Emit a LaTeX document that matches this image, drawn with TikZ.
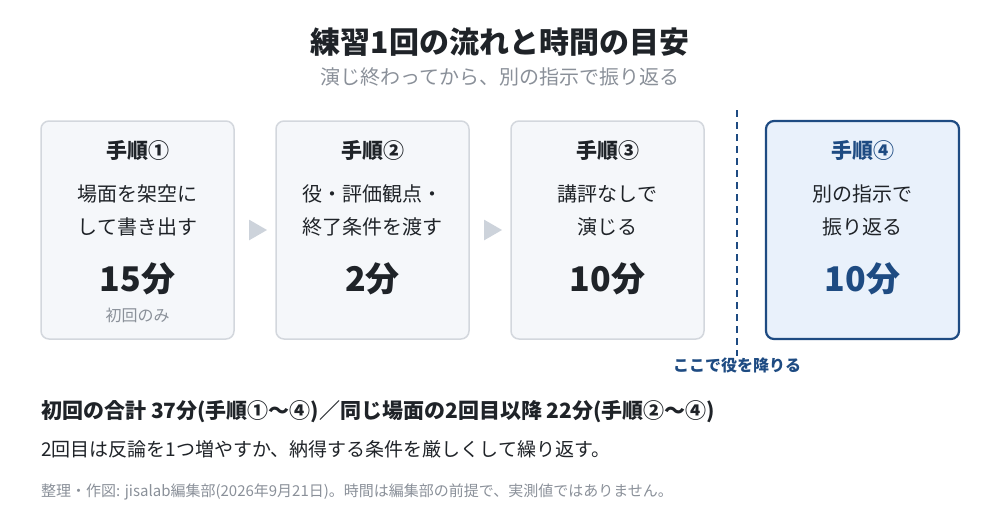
\documentclass[tikz,border=0pt]{standalone}
\usepackage{fontspec}
\setmainfont{Noto Sans CJK JP}
\usetikzlibrary{shapes.geometric}
\definecolor{boxfill}{HTML}{F5F7FA}
\definecolor{boxline}{HTML}{D3D7DD}
\definecolor{hifill}{HTML}{E9F1FB}
\definecolor{hiline}{HTML}{1E4B82}
\definecolor{ink}{HTML}{1F2328}
\definecolor{sub}{HTML}{8A9099}
\definecolor{arr}{HTML}{CDD3DB}
\begin{document}
\begin{tikzpicture}[x=1pt,y=-1pt,
  stepbox/.style={draw=boxline,fill=boxfill,line width=1.5pt,rounded corners=8pt,minimum width=193pt,minimum height=218pt,inner sep=0pt},
  hibox/.style={draw=hiline,fill=hifill,line width=2.2pt,rounded corners=8pt,minimum width=193pt,minimum height=218pt,inner sep=0pt},
  head/.style={font=\bfseries\fontsize{21}{21}\selectfont,text=ink,inner sep=0pt},
  body/.style={font=\fontsize{20}{20}\selectfont,text=ink,inner sep=0pt},
  mins/.style={font=\bfseries\fontsize{34}{34}\selectfont,text=ink,inner sep=0pt},
  note/.style={font=\fontsize{16}{16}\selectfont,text=sub,inner sep=0pt},
  tri/.style={fill=arr,draw=none,isosceles triangle,isosceles triangle apex angle=60,minimum height=18pt,inner sep=0pt}
  ]
\useasboundingbox (0,0) rectangle (1000,520);
\node[font=\bfseries\fontsize{30}{30}\selectfont,text=ink,inner sep=0pt] (title) at (500,42) {練習1回の流れと時間の目安};
\node[font=\fontsize{20}{20}\selectfont,text=sub,inner sep=0pt] (subt) at (500,77) {演じ終わってから、別の指示で振り返る};

\node[stepbox] (b1) at (137.5,230) {};
\node[stepbox] (b2) at (372.5,230) {};
\node[stepbox] (b3) at (607.5,230) {};
\node[hibox] (b4) at (862.5,230) {};

\node[head] (h1) at (137.5,150) {手順①};
\node[body] (t1a) at (137.5,194) {場面を架空に};
\node[body] (t1b) at (137.5,227) {して書き出す};
\node[mins] (m1) at (137.5,279) {15分};
\node[note] (n1) at (137.5,315) {初回のみ};

\node[head] (h2) at (372.5,150) {手順②};
\node[body] (t2a) at (372.5,194) {役・評価観点・};
\node[body] (t2b) at (372.5,227) {終了条件を渡す};
\node[mins] (m2) at (372.5,279) {2分};

\node[head] (h3) at (607.5,150) {手順③};
\node[body] (t3a) at (607.5,194) {講評なしで};
\node[body] (t3b) at (607.5,227) {演じる};
\node[mins] (m3) at (607.5,279) {10分};

\node[head,text=hiline] (h4) at (862.5,150) {手順④};
\node[body] (t4a) at (862.5,194) {別の指示で};
\node[body] (t4b) at (862.5,227) {振り返る};
\node[mins,text=hiline] (m4) at (862.5,279) {10分};

\node[tri] (a1) at (255,230) {};
\node[tri] (a2) at (490,230) {};

\coordinate (dtop) at (737,110);
\coordinate (dbot) at (737,356);
\draw[hiline,line width=2.5pt,dash pattern=on 7pt off 5pt] (dtop) -- (dbot);
\node[font=\bfseries\fontsize{16}{16}\selectfont,text=hiline,inner sep=0pt] (off) at (737,365) {ここで役を降りる};

\node[anchor=west,font=\bfseries\fontsize{21}{21}\selectfont,text=ink,inner sep=0pt] (sum) at (41,412) {初回の合計 37分(手順①～④)／同じ場面の2回目以降 22分(手順②～④)};
\node[anchor=west,font=\fontsize{19}{19}\selectfont,text=ink,inner sep=0pt] (rep) at (41,449) {2回目は反論を1つ増やすか、納得する条件を厳しくして繰り返す。};
\node[anchor=west,font=\fontsize{15}{15}\selectfont,text=sub,inner sep=0pt] (foot) at (41,492) {整理・作図: jisalab編集部(2026年9月21日)。時間は編集部の前提で、実測値ではありません。};
\end{tikzpicture}
\end{document}
